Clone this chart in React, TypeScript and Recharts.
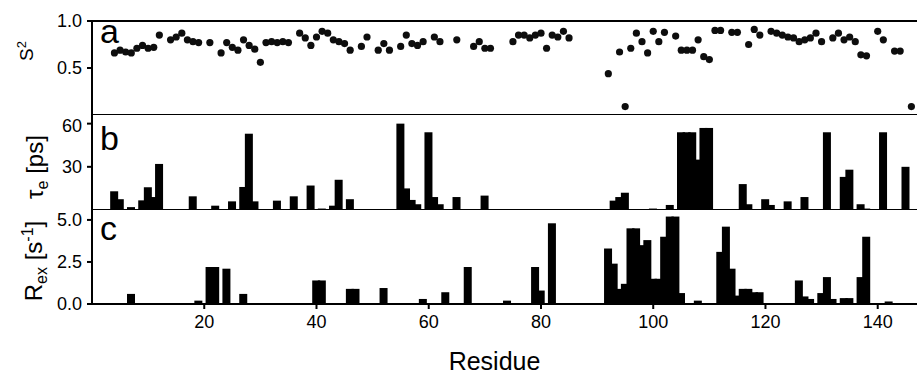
import { ComposedChart, Bar, Scatter, XAxis, YAxis, ReferenceLine } from 'recharts'

// S2 order parameters (panel a)
const s2Residues = [4, 5, 6, 7, 8, 9, 10, 11, 12, 14, 15, 16, 17, 18, 19, 21, 23, 24, 25, 26, 27, 28, 29, 30, 31, 32, 33, 34, 35,
  37, 38, 39, 40, 41, 42, 43, 44, 45, 46, 48, 49, 51, 52, 53, 55, 56, 57, 58, 59, 61, 62, 65, 68, 69, 70, 71,
  75, 76, 77, 78, 79, 80, 81, 82, 83, 84, 85,
  92, 94, 95, 96, 97, 98, 99, 100, 101, 102, 104, 105, 106, 107, 108, 109, 110, 111, 112, 114, 115, 117, 118, 119,
  121, 122, 123, 124, 125, 126, 127, 128, 129, 130, 132, 133, 134, 135, 136, 137, 138, 140, 141, 143, 144, 146]
const s2Values = [0.66, 0.69, 0.67, 0.66, 0.71, 0.74, 0.71, 0.72, 0.85, 0.80, 0.83, 0.87, 0.80, 0.78, 0.77, 0.77, 0.66, 0.77, 0.72, 0.69, 0.80, 0.74, 0.70, 0.56, 0.77, 0.78, 0.77, 0.78, 0.77,
  0.87, 0.82, 0.74, 0.83, 0.89, 0.87, 0.80, 0.78, 0.76, 0.69, 0.73, 0.83, 0.69, 0.76, 0.69, 0.73, 0.85, 0.76, 0.74, 0.78, 0.83, 0.78, 0.80, 0.73, 0.78, 0.71, 0.71,
  0.78, 0.85, 0.85, 0.82, 0.85, 0.87, 0.71, 0.85, 0.83, 0.89, 0.82,
  0.44, 0.67, 0.09, 0.71, 0.87, 0.78, 0.66, 0.89, 0.78, 0.88, 0.84, 0.69, 0.69, 0.69, 0.80, 0.62, 0.59, 0.90, 0.90, 0.88, 0.88, 0.75, 0.91, 0.85,
  0.89, 0.87, 0.85, 0.83, 0.82, 0.78, 0.80, 0.82, 0.87, 0.78, 0.82, 0.87, 0.80, 0.83, 0.78, 0.64, 0.63, 0.89, 0.80, 0.68, 0.68, 0.09]

// tau_e in ps (panel b)
const teResidues = [4, 5, 7, 9, 10, 11, 12, 18, 22, 25, 27, 28, 29, 33, 36, 39, 41, 43, 44, 46, 55, 56, 57, 58, 60, 61, 62, 65, 70,
  93, 94, 95, 100, 103, 105, 106, 107, 108, 109, 110, 116, 117, 120, 121, 124, 127, 131, 134, 135, 137, 138, 141, 145]
const teValues = [13, 7.5, 2, 6.7, 15.8, 9, 32, 9.5, 3, 6, 16, 53, 6, 6.5, 9.5, 17, 1, 3, 21, 7.5, 60, 15, 7, 4, 54, 9, 4, 9, 10,
  6.5, 9, 12, 1, 3.5, 54, 54, 54, 35, 57, 57, 18, 4, 7.5, 3.5, 6, 9, 54, 23, 28, 4, 1, 54, 30]

// R_ex in s^-1 (panel c)
const rexResidues = [7, 19, 21, 22, 24, 27, 40, 41, 46, 47, 52, 59, 63, 67, 74, 79, 80, 82,
  92, 93, 94, 95, 96, 97, 98, 99, 100, 101, 102, 103, 104, 105, 108, 112, 113, 114, 115, 116, 117, 118, 119,
  126, 127, 128, 130, 131, 132, 134, 135, 137, 138, 142]
const rexValues = [0.6, 0.2, 2.2, 2.2, 2.1, 0.6, 1.4, 1.4, 0.9, 0.9, 0.95, 0.3, 0.7, 2.2, 0.2, 2.2, 0.8, 4.8,
  3.3, 2.4, 0.9, 1.2, 4.5, 4.5, 3.5, 3.8, 1.5, 1.5, 4.0, 5.2, 5.2, 0.65, 0.2, 3.1, 4.6, 2.1, 0.5, 0.9, 0.9, 0.7, 0.7,
  1.4, 0.45, 0.3, 0.65, 1.6, 0.3, 0.35, 0.35, 1.6, 4.0, 0.15]

const xTicks = [20, 40, 60, 80, 100, 120, 140]
const lastResidue = 147

const s2Data = s2Residues.map((r, i) => ({ residue: r, s2: s2Values[i] }))
const barData = Array.from({ length: lastResidue }, (_, i) => {
  const r = i + 1
  const ti = teResidues.indexOf(r)
  const ri = rexResidues.indexOf(r)
  return { residue: r, te: ti >= 0 ? teValues[ti] : null, rex: ri >= 0 ? rexValues[ri] : null }
})

const W = 917
const FONT = '"Liberation Sans", Arial, sans-serif'
const tickStyle = { fontSize: 18, fill: '#000', fontFamily: FONT }
const axisLine = { stroke: '#000', strokeWidth: 2 }
const tickLine = { stroke: '#000', strokeWidth: 2 }

const Dot = (props: any) => <circle cx={props.cx} cy={props.cy} r={3.6} fill="#0d0d0d" />

// bars in the original overlap their neighbours a little, so draw them 8px wide around the band centre
const WideBar = (props: any) => {
  if (!props.height || props.height <= 0) return null
  const cx = props.x + props.width / 2
  return <rect x={cx - 4} y={props.y} width={8} height={props.height} fill="#000" />
}

export default function App() {
  return (
    <div style={{ position: 'absolute', left: 0, top: 0, width: W, height: 378, background: '#fff', overflow: 'hidden', fontFamily: FONT }}>
      {/* panel a */}
      <div style={{ position: 'absolute', left: 0, top: 0 }}>
        <ComposedChart width={W} height={115} data={barData} margin={{ top: 21, right: 0, bottom: 0, left: 0 }}>
          <XAxis dataKey="residue" type="number" domain={[0, lastResidue]} hide />
          <YAxis domain={[0, 1]} ticks={[0.5, 1]} width={92} tick={tickStyle} tickFormatter={(v) => v.toFixed(1)}
            axisLine={axisLine} tickLine={tickLine} tickSize={5} tickMargin={5}
            label={{ content: () => (
              <text x={33} y={51} transform="rotate(-90 33 51)" textAnchor="middle" fontSize={19} fontFamily={FONT} fill="#000">
                S<tspan dy={-7} fontSize={13}>2</tspan>
              </text>
            ) }} />
          <ReferenceLine y={1} stroke="#000" strokeWidth={2} />
          <ReferenceLine y={0} stroke="#000" strokeWidth={2} />
          <Scatter data={s2Data} dataKey="s2" shape={Dot} isAnimationActive={false} />
        </ComposedChart>
      </div>
      {/* panel b */}
      <div style={{ position: 'absolute', left: 0, top: 115 }}>
        <ComposedChart width={W} height={95} data={barData} margin={{ top: 0, right: 0, bottom: 0, left: 0 }}>
          <XAxis dataKey="residue" type="number" domain={[0, lastResidue]} hide />
          <YAxis domain={[0, 66]} ticks={[30, 60]} width={92} tick={tickStyle}
            axisLine={axisLine} tickLine={tickLine} tickSize={5} tickMargin={5}
            label={{ content: () => (
              <text x={43} y={52} transform="rotate(-90 43 52)" textAnchor="middle" fontSize={24} fontFamily={FONT} fill="#000">
                τ<tspan dy={5} fontSize={16}>e</tspan><tspan dy={-5}> [ps]</tspan>
              </text>
            ) }} />
          <ReferenceLine y={0} stroke="#000" strokeWidth={2} />
          <Bar dataKey="te" fill="#000" barSize={8} shape={WideBar} isAnimationActive={false} />
        </ComposedChart>
      </div>
      {/* panel c */}
      <div style={{ position: 'absolute', left: 0, top: 209 }}>
        <ComposedChart width={W} height={169} data={barData} margin={{ top: 0, right: 0, bottom: 0, left: 0 }}>
          <XAxis dataKey="residue" type="number" domain={[0, lastResidue]} ticks={xTicks} height={74}
            tick={tickStyle} axisLine={axisLine} tickLine={tickLine} tickSize={5} tickMargin={6}
            label={{ content: (p: any) => (
              <text x={p.viewBox.x + p.viewBox.width / 2 - 10} y={p.viewBox.y + p.viewBox.height - 8} textAnchor="middle"
                fontSize={25} fontFamily={FONT} fill="#000">Residue</text>
            ) }} />
          <YAxis domain={[0, 5.65]} ticks={[0, 2.5, 5]} width={92} tick={tickStyle} tickFormatter={(v) => v.toFixed(1)}
            axisLine={axisLine} tickLine={tickLine} tickSize={5} tickMargin={5}
            label={{ content: () => (
              <text x={42} y={52} transform="rotate(-90 42 52)" textAnchor="middle" fontSize={24} fontFamily={FONT} fill="#000">
                R<tspan dy={5} fontSize={16}>ex</tspan><tspan dy={-5}> [s</tspan><tspan dy={-9} fontSize={16}>-1</tspan><tspan dy={9}>]</tspan>
              </text>
            ) }} />
          <Bar dataKey="rex" fill="#000" barSize={8} shape={WideBar} isAnimationActive={false} />
        </ComposedChart>
      </div>
      {/* panel letters */}
      <svg width={W} height={378} style={{ position: 'absolute', left: 0, top: 0, pointerEvents: 'none' }}>
        <text x={100} y={43} fontSize={34} fontFamily={FONT} fill="#000">a</text>
        <text x={100} y={150} fontSize={34} fontFamily={FONT} fill="#000">b</text>
        <text x={100} y={240} fontSize={34} fontFamily={FONT} fill="#000">c</text>
      </svg>
    </div>
  )
}
